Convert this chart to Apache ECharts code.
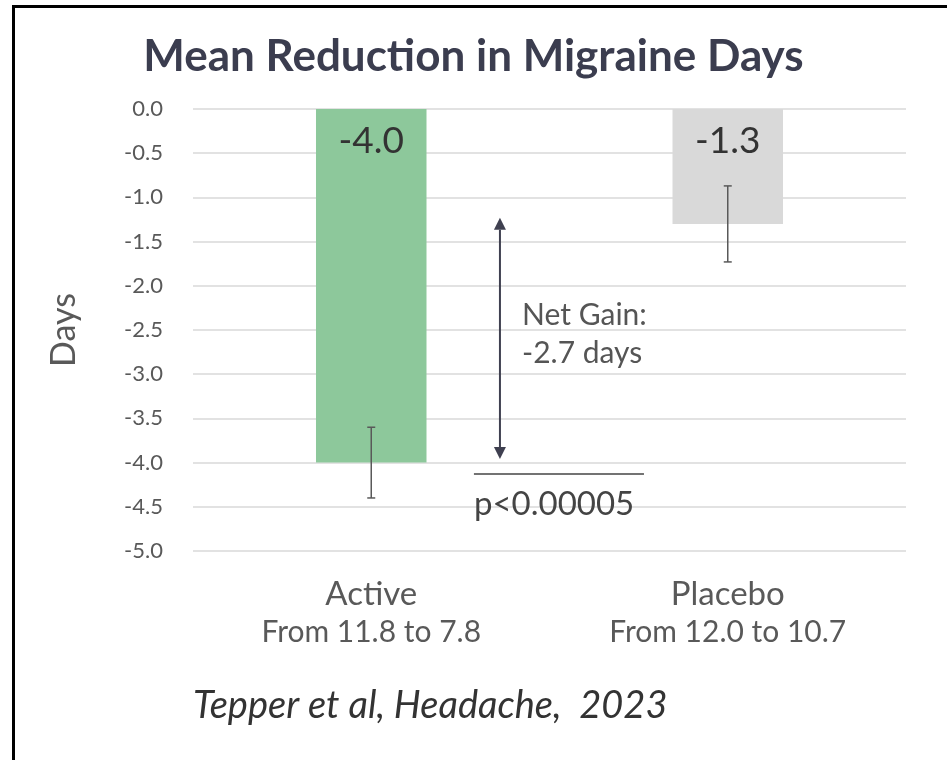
<!DOCTYPE html>
<html>
<head>
<meta charset="utf-8">
<script src="https://cdn.jsdelivr.net/npm/echarts@6/dist/echarts.min.js"></script>
<style>
  html, body { margin: 0; padding: 0; background: #fff; }
  #frame { position: absolute; left: 12px; top: 5px; width: 935px; height: 755px;
           border-top: 3px solid #000; border-left: 3px solid #000; box-sizing: border-box; }
  #chart { position: absolute; left: 0; top: 0; width: 947px; height: 760px; }
</style>
</head>
<body>
<div id="frame"></div>
<div id="chart"></div>
<script>
// chart data
const categories = ['Active', 'Placebo'];
const subLabels = ['From 11.8 to 7.8', 'From 12.0 to 10.7'];
const meanChange = [-4.0, -1.3];
const errHigh = [-3.6, -0.87];
const errLow = [-4.4, -1.73];
const barColors = ['#8dc89b', '#d9d9d9'];

// annotation values (x on a 0..2 scale across the two categories, y in days)
const arrowX = 0.861;
const arrowRange = [-1.23, -3.96];
const pLineX = [0.788, 1.265];
const pLineY = -4.13;
const netGainText = ['Net Gain:', '-2.7 days'];
const netGainPos = [[0.923, -2.33], [0.923, -2.76]];
const pText = 'p<0.00005';
const pTextPos = [0.788, -4.47];

const FONT = 'Lato';

const chart = echarts.init(document.getElementById('chart'));

chart.setOption({
  animation: false,
  title: {
    text: 'Mean Reduction in Migraine Days',
    left: 'center',
    top: 30,
    textStyle: {
      fontFamily: FONT,
      fontWeight: 'bold',
      fontSize: 44,
      color: '#3b3d4f',
    },
  },
  graphic: [{
    type: 'text',
    left: 193,
    top: 687,
    style: {
      text: 'Tepper et al, Headache,  2023',
      font: 'italic 38px Lato',
      fill: '#333',
    },
  }],
  grid: {
    left: 193,
    right: 41,
    top: 109,
    bottom: 209,
  },
  xAxis: [
    {
      type: 'category',
      data: categories,
      axisLine: { show: false },
      axisTick: { show: false },
      axisLabel: {
        margin: 24,
        interval: 0,
        formatter: (v, i) => `{a|${v}}\n{b|${subLabels[i]}}`,
        rich: {
          a: { fontFamily: FONT, fontSize: 33, color: '#595959', lineHeight: 38 },
          b: { fontFamily: FONT, fontSize: 30, color: '#595959', lineHeight: 38 },
        },
      },
    },
    {
      type: 'value',
      min: 0,
      max: 2,
      show: false,
    },
  ],
  yAxis: {
    type: 'value',
    min: -5,
    max: 0,
    interval: 0.5,
    name: 'Days',
    nameLocation: 'middle',
    nameRotate: 90,
    nameGap: 112,
    nameTextStyle: { fontFamily: FONT, fontSize: 34, color: '#595959' },
    axisLine: { show: false },
    axisTick: { show: false },
    axisLabel: {
      margin: 30,
      fontFamily: FONT,
      fontSize: 22,
      color: '#595959',
      formatter: v => (v === 0 ? '0.0' : v.toFixed(1)),
    },
    splitLine: { lineStyle: { color: '#d9d9d9', width: 1.5 } },
  },
  series: [
    {
      type: 'bar',
      barWidth: '31%',
      data: meanChange.map((v, i) => ({ value: v, itemStyle: { color: barColors[i] } })),
      label: {
        show: true,
        position: 'insideTop',
        distance: 14,
        fontFamily: FONT,
        fontSize: 37,
        color: '#333',
        formatter: p => p.value.toFixed(1),
      },
    },
    {
      type: 'custom',
      data: categories.map((c, i) => [i, errHigh[i], errLow[i]]),
      z: 5,
      renderItem: (params, api) => {
        const top = api.coord([api.value(0), api.value(1)]);
        const bot = api.coord([api.value(0), api.value(2)]);
        const st = { stroke: '#595959', lineWidth: 1.5 };
        return {
          type: 'group',
          children: [
            { type: 'line', shape: { x1: top[0], y1: top[1], x2: bot[0], y2: bot[1] }, style: st },
            { type: 'line', shape: { x1: top[0] - 4, y1: top[1], x2: top[0] + 4, y2: top[1] }, style: st },
            { type: 'line', shape: { x1: bot[0] - 4, y1: bot[1], x2: bot[0] + 4, y2: bot[1] }, style: st },
          ],
        };
      },
    },
    {
      type: 'custom',
      xAxisIndex: 1,
      data: [0],
      z: 6,
      renderItem: (params, api) => {
        const a1 = api.coord([arrowX, arrowRange[0]]);
        const a2 = api.coord([arrowX, arrowRange[1]]);
        const l1 = api.coord([pLineX[0], pLineY]);
        const l2 = api.coord([pLineX[1], pLineY]);
        const n1 = api.coord(netGainPos[0]);
        const n2 = api.coord(netGainPos[1]);
        const pt = api.coord(pTextPos);
        const dark = '#3f4050';
        const hw = 6, hh = 12;
        return {
          type: 'group',
          children: [
            { type: 'line', shape: { x1: a1[0], y1: a1[1] + hh, x2: a2[0], y2: a2[1] - hh }, style: { stroke: dark, lineWidth: 2 } },
            { type: 'polygon', shape: { points: [[a1[0], a1[1]], [a1[0] - hw, a1[1] + hh], [a1[0] + hw, a1[1] + hh]] }, style: { fill: dark } },
            { type: 'polygon', shape: { points: [[a2[0], a2[1]], [a2[0] - hw, a2[1] - hh], [a2[0] + hw, a2[1] - hh]] }, style: { fill: dark } },
            { type: 'line', shape: { x1: l1[0], y1: l1[1], x2: l2[0], y2: l2[1] }, style: { stroke: '#444', lineWidth: 1.5 } },
            { type: 'text', x: n1[0], y: n1[1], style: { text: netGainText[0], font: '30px Lato', fill: '#555', textVerticalAlign: 'middle' } },
            { type: 'text', x: n2[0], y: n2[1], style: { text: netGainText[1], font: '30px Lato', fill: '#555', textVerticalAlign: 'middle' } },
            { type: 'text', x: pt[0], y: pt[1], style: { text: pText, font: '33px Lato', fill: '#444', textVerticalAlign: 'middle' } },
          ],
        };
      },
    },
  ],
});
</script>
</body>
</html>
